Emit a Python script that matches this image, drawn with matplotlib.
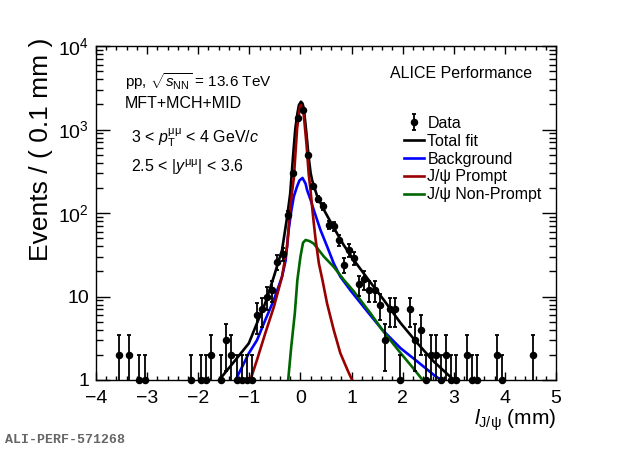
import matplotlib
matplotlib.use("Agg")
import matplotlib.pyplot as plt
from matplotlib.ticker import FixedLocator, FixedFormatter, LogLocator, MultipleLocator, NullFormatter
import numpy as np

# fonts: Helvetica-like look
plt.rcParams['font.family'] = ['Liberation Sans', 'DejaVu Sans']
plt.rcParams['mathtext.fontset'] = 'custom'
plt.rcParams['mathtext.rm'] = 'Liberation Sans'
plt.rcParams['mathtext.it'] = 'Liberation Sans:italic'
plt.rcParams['mathtext.bf'] = 'Liberation Sans:bold'

# data: pseudo-proper decay length histogram (bin width 0.1 mm)
bin_centers = [-3.55, -3.35, -3.15, -3.05, -2.15, -1.95, -1.85, -1.75,
               -1.55, -1.45, -1.35, -1.25, -1.15, -1.05, -0.95,
               -0.85, -0.75, -0.65, -0.55, -0.45, -0.35, -0.25, -0.15, -0.05,
               0.05, 0.15, 0.25, 0.35, 0.45, 0.55, 0.65, 0.75, 0.85, 0.95,
               1.05, 1.15, 1.25, 1.35, 1.45, 1.55, 1.65, 1.75, 1.85, 1.95,
               2.15, 2.25, 2.35, 2.45, 2.55, 2.65, 2.75, 2.85, 2.95,
               3.05, 3.25, 3.35, 3.45, 3.85, 3.95, 4.55]
counts = [2, 2, 1, 1, 1, 1, 1, 2,
          1, 3, 2, 1, 1, 1, 1,
          6, 7, 10, 12, 26, 32, 95, 300, 1360,
          1700, 494, 210, 148, 120, 72, 70, 47, 24, 36,
          29, 14, 16, 12, 12, 8, 3, 7, 7, 1,
          7, 3, 4, 1, 2, 2, 1, 2, 1,
          1, 2, 1, 1, 2, 1, 2]

# fit components
fit_x = [-1.59, -1.27, -1.01, -0.85, -0.69, -0.52, -0.36, -0.26, -0.20, -0.18, -0.14,
         -0.10, -0.06, -0.03, 0.01, 0.04, 0.065, 0.09, 0.12, 0.16, 0.20, 0.23, 0.33,
         0.46, 0.65, 0.85, 1.05, 1.31, 1.63, 1.96, 2.29, 2.61, 3.0]
fit_y = [1, 1.74, 2.75, 4.8, 8.3, 17.3, 36, 90, 172, 250, 520,
         1030, 1550, 1960, 2150, 2050, 1800, 1300, 860, 470, 300, 245, 157,
         109, 67, 41, 27, 16.5, 9.1, 4.8, 2.75, 1.66, 1.0]

bkg_x = [-1.27, -1.14, -1.01, -0.85, -0.69, -0.52, -0.36, -0.29, -0.23, -0.18, -0.13,
         -0.07, -0.02, 0.04, 0.10, 0.13, 0.20, 0.26, 0.39, 0.52, 0.65, 0.78, 0.98,
         1.31, 1.60, 1.96, 2.29, 2.61, 2.75]
bkg_y = [1, 1.44, 2.09, 3.0, 5.2, 9.1, 17.3, 27, 63, 105, 157,
         205, 245, 263, 225, 188, 143, 109, 63, 40, 25, 17.3, 11.8,
         6.6, 4.0, 2.4, 1.66, 1.15, 1.0]

prompt_x = [-0.98, -0.85, -0.69, -0.52, -0.36, -0.26, -0.20, -0.13, -0.065, -0.01, 0.01,
            0.065, 0.12, 0.16, 0.20, 0.24, 0.29, 0.36, 0.43, 0.52, 0.65, 0.78, 0.92, 1.01]
prompt_y = [1, 1.74, 3.6, 7.5, 17.3, 40, 119, 260, 1030, 1880, 1960,
            1490, 650, 300, 180, 100, 52, 25, 15.8, 8.3, 4.0, 2.1, 1.32, 1.0]

nonprompt_x = [-0.24, -0.18, -0.11, -0.06, 0.0, 0.05, 0.10, 0.18, 0.26, 0.46, 0.65,
               0.85, 1.05, 1.37, 1.63, 1.96, 2.2, 2.39]
nonprompt_y = [1, 2.5, 6.3, 15.8, 30, 44, 47.5, 46, 43, 30, 22.7,
               15.8, 11.4, 6.3, 3.76, 2.1, 1.4, 1.0]

y_ticks = [1, 10, 100, 1000, 10000]
y_ticklabels = ['1', '10', '$10^{2}$', '$10^{3}$', '$10^{4}$']
x_ticks = [-4, -3, -2, -1, 0, 1, 2, 3, 4, 5]
x_ticklabels = ['\u22124', '\u22123', '\u22122', '\u22121', '0', '1', '2', '3', '4', '5']

c_red = '#990000'
c_green = '#006600'
c_blue = '#0000ff'

fig = plt.figure(figsize=(6.2, 4.49), dpi=100)
ax = fig.add_axes([96/620, 1-380/449, 460/620, 334/449])
ax.set_yscale('log')

lw = 1.9
l_fit, = ax.plot(fit_x, fit_y, color='black', lw=lw, zorder=2)
l_bkg, = ax.plot(bkg_x, bkg_y, color=c_blue, lw=lw, zorder=3)
l_nonprompt, = ax.plot(nonprompt_x, nonprompt_y, color=c_green, lw=lw, zorder=4)
l_prompt, = ax.plot(prompt_x, prompt_y, color=c_red, lw=lw, zorder=5)

cnt = np.array(counts, dtype=float)
err = np.sqrt(cnt)
data = ax.errorbar(bin_centers, cnt, yerr=err, fmt='o', color='black', ms=4.4,
                   elinewidth=1.3, capsize=1.6, capthick=1.3, zorder=6)
data.lines[0].set_clip_on(False)

ax.set_xlim(-4, 5)
ax.set_ylim(1, 1e4)

ax.xaxis.set_major_locator(FixedLocator(x_ticks))
ax.xaxis.set_major_formatter(FixedFormatter(x_ticklabels))
ax.xaxis.set_minor_locator(MultipleLocator(0.2))
ax.yaxis.set_major_locator(FixedLocator(y_ticks))
ax.yaxis.set_major_formatter(FixedFormatter(y_ticklabels))
ax.yaxis.set_minor_locator(LogLocator(base=10, subs=np.arange(2, 10)))
ax.yaxis.set_minor_formatter(NullFormatter())

ax.tick_params(which='both', direction='in', top=True, right=True, width=1.0, labelsize=14)
ax.tick_params(axis='x', which='major', length=6, pad=7)
ax.tick_params(axis='x', which='minor', length=3)
ax.tick_params(axis='y', which='major', length=10, pad=5)
ax.tick_params(axis='y', which='minor', length=5)
for s in ax.spines.values():
    s.set_linewidth(1.0)

# axis titles (ROOT style placement)
fig.text(41/620, 1-38/449, 'Events / ( 0.1 mm )', rotation=90, ha='center', va='top', fontsize=19)
fig.text(556/620, 1-420/449, r'$l_{\mathrm{J/\psi}}$ (mm)', ha='right', va='center', fontsize=15)

# annotations
fs = 11.5
fig.text(125/620, 1-82/449, r'pp, $\sqrt{s_{\mathrm{NN}}}$ = 13.6 TeV', fontsize=11, va='center')
fig.text(125/620, 1-104/449, 'MFT+MCH+MID', fontsize=fs, va='center')
fig.text(131/620, 1-138/449, r'3 < $p_{\mathrm{T}}^{\mathrm{\mu\mu}}$ < 4 GeV/$c$', fontsize=fs, va='center')
fig.text(131/620, 1-167/449, r'2.5 < |$y^{\mathrm{\mu\mu}}$| < 3.6', fontsize=fs, va='center')
fig.text(390/620, 1-73/449, 'ALICE Performance', fontsize=fs, va='center')

handles = [data, l_fit, l_bkg, l_prompt, l_nonprompt]
labels = ['Data', 'Total fit', 'Background', 'J/\u03c8 Prompt', 'J/\u03c8 Non-Prompt']
ax.legend(handles, labels, loc='upper left', bbox_to_anchor=(404/620, 1-116/449),
          bbox_transform=fig.transFigure, frameon=False, fontsize=fs,
          handlelength=1.25, handletextpad=0.22, labelspacing=0.175,
          borderpad=0, borderaxespad=0)

fig.text(5/620, 1-440/449, 'ALI-PERF-571268', family='Liberation Mono', fontweight='bold',
         fontsize=9.5, color='#666666', va='center')

fig.savefig('out.png', dpi=100)
